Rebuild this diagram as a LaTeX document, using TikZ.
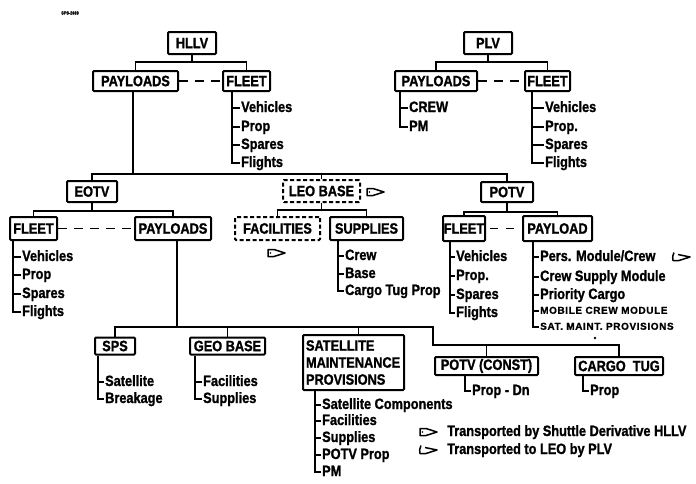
\documentclass[tikz,border=0pt]{standalone}
\usepackage{fontspec}
\setmainfont[FakeStretch=0.85,FakeBold=1.2]{Liberation Sans}
\newfontfamily\spacedfont[LetterSpace=6,FakeBold=1]{Liberation Sans}
\begin{document}
\begin{tikzpicture}[x=1pt,y=-1pt,
  box/.style={draw, line width=2pt, rounded corners=1pt, inner sep=0pt, font=\fontsize{15}{17}\selectfont\bfseries},
  dbox/.style={box, dash pattern=on 4pt off 2.5pt},
  item/.style={anchor=west, inner sep=1pt, font=\fontsize{15}{17}\selectfont\bfseries, text height=11pt, text depth=3pt},
  smallitem/.style={item, font=\spacedfont\fontsize{10}{12}\selectfont\bfseries, text height=7.5pt, text depth=2pt},
  conn/.style={line width=1.4pt},
  dconn/.style={conn, dash pattern=on 9pt off 7pt},
  hllvsym/.pic={\draw[line width=1.5pt, line join=round] (0,-3.5) -- (6,-3.5) -- (17,0) -- (6,3.5) -- (0,3.5) -- cycle; \fill (2.5,0) circle (0.8);},
  plvsym/.pic={\draw[line width=1.5pt, line join=round] (1,-4.5) .. controls (-0.5,-1) .. (0,3.5) -- (6,3.5) -- (17,0) -- (5,-2.5);}
]
\fill[white] (0,0) rectangle (696,483);
\useasboundingbox (0,0) rectangle (696,483);

% tag
\node[font=\fontsize{4.5}{5}\selectfont\bfseries, inner sep=0pt] (tag) at (70,13) {SPS-2669};

% boxes
\node[box, minimum width=48pt, minimum height=22pt] (HLLV) at (192,43) {HLLV};
\node[box, minimum width=48pt, minimum height=22pt] (PLV) at (488,43) {PLV};
\node[box, minimum width=85pt, minimum height=20pt] (HP) at (135.5,81) {PAYLOADS};
\node[box, minimum width=47pt, minimum height=20pt] (HF) at (246.5,81) {FLEET};
\node[box, minimum width=82pt, minimum height=20pt] (PP) at (436,81) {PAYLOADS};
\node[box, minimum width=45pt, minimum height=20pt] (PF) at (547.5,81) {FLEET};
\node[box, minimum width=50pt, minimum height=21pt] (EOTV) at (92,191.5) {EOTV};
\node[dbox, minimum width=77pt, minimum height=22pt] (LEO) at (321.5,191) {LEO BASE};
\node[box, minimum width=52pt, minimum height=20pt] (POTV) at (507,192) {POTV};
\node[box, minimum width=47pt, minimum height=23pt] (EF) at (33.5,228.5) {FLEET};
\node[box, minimum width=76pt, minimum height=23pt] (EP) at (173,228.5) {PAYLOADS};
\node[dbox, minimum width=85pt, minimum height=23pt] (FAC) at (277.5,228.5) {FACILITIES};
\node[box, minimum width=73pt, minimum height=23pt] (SUP) at (366.5,228.5) {SUPPLIES};
\node[box, minimum width=42pt, minimum height=25pt] (OF) at (464,228.5) {FLEET};
\node[box, minimum width=69pt, minimum height=25pt] (OP) at (557.5,228.5) {PAYLOAD};
\node[box, minimum width=40pt, minimum height=17pt] (SPS) at (115,346) {SPS};
\node[box, minimum width=75pt, minimum height=17pt] (GEO) at (227.5,346) {GEO BASE};
\node[box, minimum height=55pt, align=left, anchor=north west, text width=95pt, inner xsep=3pt] (SAT) at (302,334) {SATELLITE\\MAINTENANCE\\PROVISIONS};
\node[box, minimum width=103pt, minimum height=18pt] (PC) at (486.5,366) {POTV (CONST)};
\node[box, minimum width=88pt, minimum height=18pt] (CT) at (619,366) {CARGO\ \ TUG};

% tree connectors
\coordinate (hb) at (0,62);
\draw[conn] (HLLV.south) -- (HLLV.south |- hb);
\draw[conn] (HP.north) |- (hb -| HF.north) -- (HF.north);
\draw[conn] (PLV.south) -- (PLV.south |- hb);
\draw[conn] (PP.north) |- (hb -| PF.north) -- (PF.north);
\draw[dconn] (HP.east) -- (HF.west);
\draw[dconn] (PP.east) -- (PF.west);

\coordinate (mainbar) at (0,174);
\draw[conn] ([xshift=-2.5pt]HP.south) -- ([xshift=-2.5pt]HP.south |- mainbar);
\draw[conn] (EOTV.north) |- (mainbar -| POTV.north) -- (POTV.north);
\draw[conn] (LEO.north) -- (LEO.north |- mainbar);

\coordinate (eb) at (0,211);
\draw[conn] (EOTV.south) -- (EOTV.south |- eb);
\draw[conn] (EF.north) |- (eb -| EP.north) -- (EP.north);
\draw[dconn] (EF.east) -- (EP.west);

\coordinate (lb0) at (0,210);
\draw[conn] (LEO.south) -- (LEO.south |- lb0);
\draw[conn] (FAC.north) |- (lb0 -| SUP.north) -- (SUP.north);

\coordinate (pb) at (0,212);
\draw[conn] (POTV.south) -- (POTV.south |- pb);
\draw[conn] (OF.north) |- (pb -| OP.north) -- (OP.north);
\draw[conn, dash pattern=on 8pt off 8pt, dash phase=-4pt] (OF.east) -- (OP.west);

\coordinate (lb) at (0,327);
\coordinate (lb2) at (0,345);
\coordinate (stepx) at (433,0);
\draw[conn] ([xshift=4pt]EP.south) -- ([xshift=4pt]EP.south |- lb);
\draw[conn] (SPS.north) |- (lb -| stepx) |- (lb2 -| CT.north) -- (CT.north);
\draw[conn] (GEO.north) -- (GEO.north |- lb);
\draw[conn] ([xshift=5pt]SAT.north) -- ([xshift=5pt]SAT.north |- lb);
\draw[conn] (PC.north) -- (PC.north |- lb2);

% lists
\node[item] (hf1) at (240,108) {Vehicles};
\node[item] (hf2) at (240,127) {Prop};
\node[item] (hf3) at (240,145) {Spares};
\node[item] (hf4) at (240,163) {Flights};
\coordinate (hfx) at (232,0);
\draw[conn] (HF.south -| hfx) |- (hf4.west);
\foreach \n in {hf1,hf2,hf3} \draw[conn] (\n.west) -- (\n.west -| hfx);

\node[item] (pp1) at (408,108) {CREW};
\node[item] (pp2) at (408,127) {PM};
\coordinate (ppx) at (400,0);
\draw[conn] (PP.south -| ppx) |- (pp2.west);
\draw[conn] (pp1.west) -- (pp1.west -| ppx);

\node[item] (pf1) at (544,108) {Vehicles};
\node[item] (pf2) at (544,127) {Prop.};
\node[item] (pf3) at (544,145) {Spares};
\node[item] (pf4) at (544,163) {Flights};
\coordinate (pfx) at (532,0);
\draw[conn] (PF.south -| pfx) |- (pf4.west);
\foreach \n in {pf1,pf2,pf3} \draw[conn] (\n.west) -- (\n.west -| pfx);

\node[item] (ef1) at (21,257) {Vehicles};
\node[item] (ef2) at (21,275) {Prop};
\node[item] (ef3) at (21,294) {Spares};
\node[item] (ef4) at (21,312) {Flights};
\coordinate (efx) at (13,0);
\draw[conn] (EF.south -| efx) |- (ef4.west);
\foreach \n in {ef1,ef2,ef3} \draw[conn] (\n.west) -- (\n.west -| efx);

\node[item] (su1) at (344,256) {Crew};
\node[item] (su2) at (344,274) {Base};
\node[item] (su3) at (344,291) {Cargo Tug Prop};
\coordinate (sux) at (338,0);
\draw[conn] (SUP.south -| sux) |- (su3.west);
\foreach \n in {su1,su2} \draw[conn] (\n.west) -- (\n.west -| sux);

\node[item] (of1) at (455,257) {Vehicles};
\node[item] (of2) at (455,276) {Prop.};
\node[item] (of3) at (455,295) {Spares};
\node[item] (of4) at (455,313) {Flights};
\coordinate (ofx) at (450,0);
\draw[conn] (OF.south -| ofx) |- (of4.west);
\foreach \n in {of1,of2,of3} \draw[conn] (\n.west) -- (\n.west -| ofx);

\node[item] (op1) at (539,257) {Pers. Module/Crew};
\node[item] (op2) at (539,277) {Crew Supply Module};
\node[item] (op3) at (539,295) {Priority Cargo};
\node[smallitem] (op4) at (539,311) {MOBILE CREW MODULE};
\node[smallitem] (op5) at (539,327) {SAT. MAINT. PROVISIONS};
\coordinate (opx) at (533,0);
\draw[conn] (OP.south -| opx) |- (op5.west);
\foreach \n in {op1,op2,op3,op4} \draw[conn] (\n.west) -- (\n.west -| opx);
\fill (595,338) circle (1.3);

\node[item] (sp1) at (104,382) {Satellite};
\node[item] (sp2) at (104,399) {Breakage};
\coordinate (spx) at (98,0);
\draw[conn] (SPS.south -| spx) |- (sp2.west);
\draw[conn] (sp1.west) -- (sp1.west -| spx);

\node[item] (ge1) at (202,382) {Facilities};
\node[item] (ge2) at (202,399) {Supplies};
\coordinate (gex) at (195,0);
\draw[conn] (GEO.south -| gex) |- (ge2.west);
\draw[conn] (ge1.west) -- (ge1.west -| gex);

\node[item] (sa1) at (321,405) {Satellite Components};
\node[item] (sa2) at (321,421) {Facilities};
\node[item] (sa3) at (321,438) {Supplies};
\node[item] (sa4) at (321,455) {POTV Prop};
\node[item] (sa5) at (321,472) {PM};
\coordinate (sax) at (315,0);
\draw[conn] (SAT.south -| sax) |- (sa5.west);
\foreach \n in {sa1,sa2,sa3,sa4} \draw[conn] (\n.west) -- (\n.west -| sax);

\node[item] (pc1) at (471,391) {Prop - Dn};
\coordinate (pcx) at (465,0);
\draw[conn] (PC.south -| pcx) |- (pc1.west);

\node[item] (ct1) at (589,391) {Prop};
\coordinate (ctx) at (583,0);
\draw[conn] (CT.south -| ctx) |- (ct1.west);

% symbols
\pic at (367,192) {hllvsym};
\pic at (268,253) {hllvsym};
\pic at (673,257) {plvsym};

% legend
\pic at (420,432) {hllvsym};
\pic at (420,450) {plvsym};
\node[item] (lg1) at (446,432) {Transported by Shuttle Derivative HLLV};
\node[item] (lg2) at (446,450) {Transported to LEO by PLV};
\end{tikzpicture}
\end{document}
